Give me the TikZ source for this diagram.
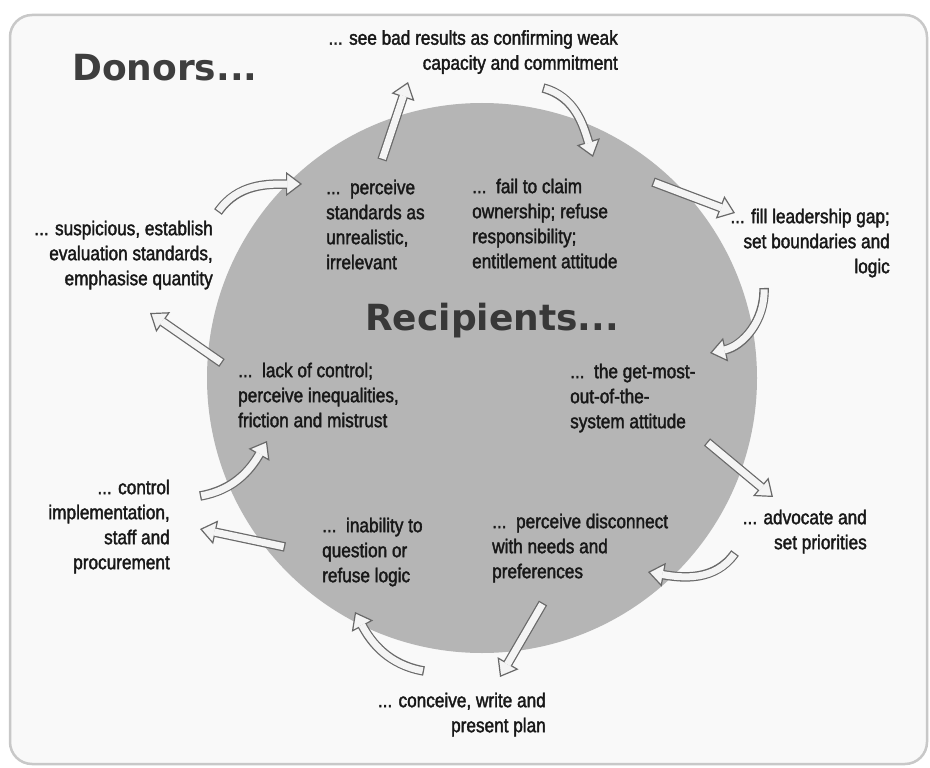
\documentclass[tikz,border=0pt]{standalone}
\usepackage{fontspec}
\setmainfont{Liberation Sans}[FakeStretch=0.86,FakeBold=1.8]
\newfontfamily\headfont{DejaVu Sans}
\usetikzlibrary{arrows.meta}
\definecolor{framefill}{RGB}{249,249,249}
\definecolor{framedraw}{RGB}{200,200,200}
\definecolor{circfill}{RGB}{181,181,181}
\definecolor{txt}{RGB}{24,24,24}
\definecolor{headtxt}{RGB}{62,62,62}
\definecolor{aline}{RGB}{105,105,105}
\definecolor{afill}{RGB}{244,244,244}
\tikzset{
  lbl/.style={inner sep=0pt, font=\fontsize{20}{25}\selectfont, text=txt},
  lblr/.style={lbl, align=right},
  lbll/.style={lbl, align=left},
  titletext/.style={inner sep=0pt, font=\headfont\bfseries\fontsize{36}{40}\selectfont, text=headtxt},
  aouter/.style={draw=aline, line width=9.5pt, -{Triangle[length=16pt,width=24pt,line width=1.2pt,fill=afill]}},
  ainner/.style={draw=afill, line width=7pt, shorten <=1.3pt, shorten >=14.5pt},
}
\newcommand\blockarrow[1]{\draw[aouter] #1; \draw[ainner] #1;}
\begin{document}
\begin{tikzpicture}[x=1pt,y=1pt]
\useasboundingbox (0,0) rectangle (930,-768);
\fill[white] (0,0) rectangle (930,-768);
\draw[framedraw, line width=2.5pt, fill=framefill, rounded corners=22pt] (10,-15) rectangle (927,-764);
\fill[circfill] (482,-378) circle (275);

\node[titletext, anchor=west] (donors) at (72,-68) {Donors...};
\node[titletext, anchor=base west, text=headtxt!90!black] (recip) at (365,-330) {Recipients...};

\node[lblr, anchor=north east] (seebad) at (618,-30) {... see bad results as confirming weak\\capacity and commitment};
\node[lblr, anchor=north east] (fillgap) at (890,-208.5) {... fill leadership gap;\\set boundaries and\\logic};
\node[lblr, anchor=north east] (advoc) at (867,-509.5) {... advocate and\\set priorities};
\node[lblr, anchor=north east] (conceive) at (546,-692.5) {... conceive, write and\\present plan};
\node[lblr, anchor=north east] (control) at (170,-479.5) {... control\\implementation,\\staff and\\procurement};
\node[lblr, anchor=north east] (suspic) at (213,-220.5) {... suspicious, establish\\evaluation standards,\\emphasise quantity};

\node[lbll, anchor=north west] (perceive) at (326,-179.5) {...\ \ perceive\\standards as\\unrealistic,\\irrelevant};
\node[lbll, anchor=north west] (failclaim) at (472,-178.5) {...\ \ fail to claim\\ownership; refuse\\responsibility;\\entitlement attitude};
\node[lbll, anchor=north west] (getmost) at (570,-363.5) {...\ \ the get-most-\\out-of-the-\\system attitude};
\node[lbll, anchor=north west] (lackctrl) at (238,-362.5) {...\ \ lack of control;\\perceive inequalities,\\friction and mistrust};
\node[lbll, anchor=north west] (inabil) at (322,-517.5) {...\ \ inability to\\question or\\refuse logic};
\node[lbll, anchor=north west] (disconn) at (492,-513.5) {...\ \ perceive disconnect\\with needs and\\preferences};

\coordinate (a1s) at (382,-160); \coordinate (a1e) at (408,-82);
\coordinate (a2s) at (543,-88); \coordinate (a2e) at (593,-157);
\coordinate (a3s) at (653,-182); \coordinate (a3e) at (735,-213);
\coordinate (a4s) at (764,-288); \coordinate (a4e) at (710,-353);
\coordinate (a5s) at (707,-442); \coordinate (a5e) at (773,-497);
\coordinate (a6s) at (735,-553); \coordinate (a6e) at (648,-572);
\coordinate (a7s) at (543,-603); \coordinate (a7e) at (500,-677);
\coordinate (a8s) at (424,-671); \coordinate (a8e) at (355,-612);
\coordinate (a9s) at (285,-547); \coordinate (a9e) at (200,-529);
\coordinate (a10s) at (200,-496); \coordinate (a10e) at (267,-441);
\coordinate (a11s) at (222,-363); \coordinate (a11e) at (150,-313);
\coordinate (a12s) at (218,-212); \coordinate (a12e) at (302,-184);

\blockarrow{(a1s) -- (a1e)}
\blockarrow{(a2s) to[out=-15,in=107] (a2e)}
\blockarrow{(a3s) -- (a3e)}
\blockarrow{(a4s) to[out=-88,in=12] (a4e)}
\blockarrow{(a5s) -- (a5e)}
\blockarrow{(a6s) to[out=235,in=-10] (a6e)}
\blockarrow{(a7s) -- (a7e)}
\blockarrow{(a8s) to[out=170,in=-62] (a8e)}
\blockarrow{(a9s) -- (a9e)}
\blockarrow{(a10s) to[out=10,in=-120] (a10e)}
\blockarrow{(a11s) -- (a11e)}
\blockarrow{(a12s) to[out=55,in=180] (a12e)}
\end{tikzpicture}
\end{document}
